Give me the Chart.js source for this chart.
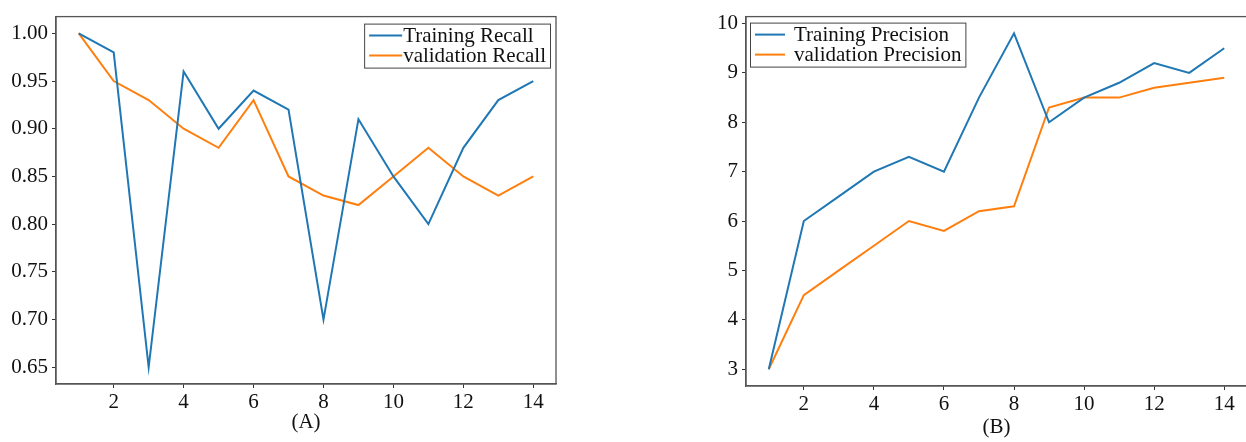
<!DOCTYPE html>
<html>
<head>
<meta charset="utf-8">
<script src="https://cdn.jsdelivr.net/npm/chart.js@4"></script>
<style>
  html, body { margin: 0; padding: 0; background: #fff; overflow: hidden; }
  body { width: 1246px; height: 442px; position: relative; }
  .panel { position: absolute; top: 0; height: 442px; }
  #panel-a { left: 0; width: 580px; }
  #panel-b { left: 640px; width: 608px; }
</style>
</head>
<body>
<div class="panel" id="panel-a"><canvas id="chart-a"></canvas></div>
<div class="panel" id="panel-b"><canvas id="chart-b"></canvas></div>
<script>
// Epochs and metric values
const epochs = [1, 2, 3, 4, 5, 6, 7, 8, 9, 10, 11, 12, 13, 14];
const trainRecall = [1.00, 0.98, 0.65, 0.96, 0.90, 0.94, 0.92, 0.70, 0.91, 0.85, 0.80, 0.88, 0.93, 0.95];
const valRecall = [1.00, 0.95, 0.93, 0.90, 0.88, 0.93, 0.85, 0.83, 0.82, 0.85, 0.88, 0.85, 0.83, 0.85];
const trainPrecision = [3.0, 6.0, 6.5, 7.0, 7.3, 7.0, 8.5, 9.8, 8.0, 8.5, 8.8, 9.2, 9.0, 9.5];
const valPrecision = [3.0, 4.5, 5.0, 5.5, 6.0, 5.8, 6.2, 6.3, 8.3, 8.5, 8.5, 8.7, 8.8, 8.9];

// Tick labels
const xTicks = [2, 4, 6, 8, 10, 12, 14];
const recallTicks = [0.65, 0.70, 0.75, 0.80, 0.85, 0.90, 0.95, 1.00];
const precisionTicks = [3, 4, 5, 6, 7, 8, 9, 10];

const BLUE = '#1f77b4';
const ORANGE = '#ff7f0e';
const AXIS = '#555555';
const FONT = { family: '"Liberation Serif", "Times New Roman", serif', size: 21 };

Chart.defaults.font.family = FONT.family;
Chart.defaults.color = '#111';

// Frame round the plot area plus a boxed legend inside it
const framePlugin = {
  id: 'frame',
  afterDatasetsDraw(chart, args, opts) {
    const { ctx, chartArea: a } = chart;
    ctx.save();
    ctx.strokeStyle = AXIS;
    ctx.lineWidth = 1.3;
    ctx.strokeRect(a.left, a.top, a.right - a.left, a.bottom - a.top);

    // legend
    const lg = opts.legend;
    ctx.font = FONT.size + 'px ' + FONT.family;
    const labels = chart.data.datasets.map(d => d.label);
    const textW = Math.max(...labels.map(t => ctx.measureText(t).width));
    const rowH = 20;
    const w = 5 + lg.lineLen + lg.gap + textW + 4;
    const h = rowH * labels.length + 4;
    const x0 = lg.side === 'right' ? a.right - lg.dx - w : a.left + lg.dx;
    const y0 = a.top + lg.dy;
    ctx.fillStyle = '#fff';
    ctx.fillRect(x0, y0, w, h);
    ctx.strokeStyle = '#444';
    ctx.lineWidth = 1;
    ctx.strokeRect(x0 + 0.5, y0 + 0.5, w, h);
    ctx.textBaseline = 'middle';
    chart.data.datasets.forEach((d, i) => {
      const cy = y0 + 2 + rowH * i + rowH / 2;
      ctx.strokeStyle = d.borderColor;
      ctx.lineWidth = 2;
      ctx.beginPath();
      ctx.moveTo(x0 + 5, cy);
      ctx.lineTo(x0 + 5 + lg.lineLen, cy);
      ctx.stroke();
      ctx.fillStyle = '#111';
      ctx.fillText(d.label, x0 + 5 + lg.lineLen + lg.gap, cy + 1);
    });
    ctx.restore();
  }
};

function series(values) {
  return epochs.map((e, i) => ({ x: e, y: values[i] }));
}

function makeChart(id, cfg) {
  return new Chart(document.getElementById(id), {
    type: 'line',
    data: {
      datasets: [
        { label: cfg.labels[0], data: series(cfg.train), borderColor: BLUE, borderWidth: 2, pointRadius: 0, tension: 0 },
        { label: cfg.labels[1], data: series(cfg.val), borderColor: ORANGE, borderWidth: 2, pointRadius: 0, tension: 0 }
      ]
    },
    options: {
      responsive: true,
      maintainAspectRatio: false,
      animation: false,
      events: [],
      layout: { padding: cfg.padding },
      plugins: {
        legend: { display: false },
        tooltip: { enabled: false },
        frame: { legend: cfg.legend }
      },
      scales: {
        x: {
          type: 'linear',
          min: 0.35,
          max: 14.65,
          afterBuildTicks: s => { s.ticks = xTicks.map(v => ({ value: v })); },
          afterFit: s => { s.height = cfg.xHeight; },
          grid: { drawOnChartArea: false, tickLength: 4, color: '#333' },
          border: { color: AXIS, width: 1.3 },
          ticks: { font: FONT, color: '#111', padding: 2, maxRotation: 0 },
          title: { display: true, text: cfg.title, font: FONT, color: '#111', padding: { top: 0, bottom: 0 } }
        },
        y: {
          min: cfg.yMin,
          max: cfg.yMax,
          afterBuildTicks: s => { s.ticks = cfg.yTicks.map(v => ({ value: v })); },
          afterFit: s => { s.width = cfg.yWidth; },
          grid: { drawOnChartArea: false, tickLength: 4, color: '#333' },
          border: { color: AXIS, width: 1.3 },
          ticks: { font: FONT, color: '#111', padding: 4, callback: cfg.fmt }
        }
      }
    },
    plugins: [framePlugin]
  });
}

makeChart('chart-a', {
  labels: ['Training Recall', 'validation Recall'],
  train: trainRecall,
  val: valRecall,
  yTicks: recallTicks,
  yMin: 0.6325,
  yMax: 1.0175,
  fmt: v => v.toFixed(2),
  title: '(A)',
  padding: { top: 13, right: 24, left: 0, bottom: 7 },
  yWidth: 56,
  xHeight: 51,
  legend: { side: 'right', dx: 6, dy: 7, lineLen: 33, gap: 1 }
});

makeChart('chart-b', {
  labels: ['Training Precision', 'validation Precision'],
  train: trainPrecision,
  val: valPrecision,
  yTicks: precisionTicks,
  yMin: 2.66,
  yMax: 10.14,
  fmt: v => String(v),
  title: '(B)',
  padding: { top: 13, right: 1, left: 0, bottom: 2 },
  yWidth: 106,
  xHeight: 54,
  legend: { side: 'left', dx: 4, dy: 6, lineLen: 30, gap: 9 }
});
</script>
</body>
</html>
